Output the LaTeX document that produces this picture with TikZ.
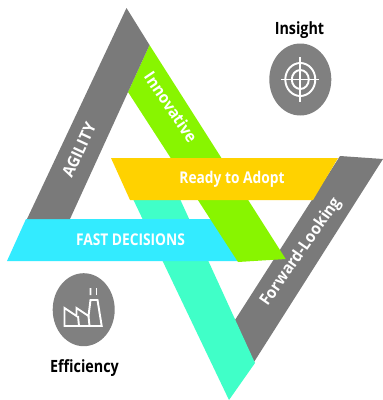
\documentclass[tikz,border=0pt]{standalone}
\usepackage{fontspec}
\setmainfont[FakeStretch=0.85]{Open Sans}
\newfontfamily\slantfont[FakeStretch=0.94]{Open Sans}
\definecolor{bargray}{HTML}{7A7A7A}
\definecolor{bargreen}{HTML}{88F500}
\definecolor{baryellow}{HTML}{FFD200}
\definecolor{barcyan}{HTML}{33EBFF}
\definecolor{barteal}{HTML}{40FFC8}
\definecolor{circgray}{HTML}{808080}
\tikzset{
    bartext/.style={inner sep=0pt, text=white, font=\fontsize{4.6}{5}\selectfont\bfseries},
    slanttext/.style={inner sep=0pt, text=white, font=\slantfont\fontsize{4.6}{5}\selectfont\bfseries},
    headtext/.style={inner sep=0pt, text=black, font=\fontsize{4.8}{5}\selectfont\bfseries},
    iconline/.style={draw=white, line width=0.55pt}
}
\begin{document}
\begin{tikzpicture}[x=0.01cm, y=-0.01cm]
    \useasboundingbox (0, 0) rectangle (383, 400);
    \fill[bargray] (340, 156) -- (383, 159) -- (254, 362) -- (235, 320) -- cycle;
    \fill[barteal] (133, 199) -- (180, 199) -- (255, 363) -- (229, 400) -- cycle;
    \fill[barcyan] (26, 219) -- (214, 219) -- (240, 261) -- (7, 261) -- cycle;
    \fill[bargreen] (149.5, 45) -- (285.7, 259) -- (238, 262) -- (128, 92) -- cycle;
    \fill[bargray] (126.5, 8) -- (149.5, 45) -- (70, 219) -- (27, 219) -- cycle;
    \fill[baryellow] (111, 158) -- (338, 158) -- (313, 200) -- (130, 200) -- cycle;
    \node[slanttext, rotate=65] (agility) at (79, 150) {AGILITY};
    \node[slanttext, rotate=-56] (innovative) at (171, 107) {Innovative};
    \node[bartext] (adopt) at (232, 179) {Ready to Adopt};
    \node[bartext] (fast) at (130.5, 240) {FAST DECISIONS};
    \node[slanttext, rotate=55] (forward) at (301, 252) {Forward-Looking};
    \node[headtext] (insight) at (299.5, 30) {Insight};
    \node[headtext] (efficiency) at (84.5, 368) {Efficiency};
    \fill[circgray] (300.3, 79.5) ellipse (31 and 36);
    \fill[circgray] (83.7, 309.7) ellipse (31 and 36.5);
    \begin{scope}[shift={(300.3, 79.5)}]
        \draw[iconline] (0, 0) ellipse (15 and 16.5);
        \draw[iconline] (0, 0) ellipse (8.5 and 9.5);
        \draw[iconline] (-19, 0) -- (19, 0);
        \draw[iconline] (0, -22.5) -- (0, 22.5);
    \end{scope}
    \draw[iconline] (64.5, 326) -- (64.5, 308) -- (76.5, 316) -- (76.5, 308) -- (88.5, 316)
        -- (90.5, 300) -- (97.5, 300) -- (101.7, 326) -- cycle;
    \draw[iconline] (78, 316) -- (79, 326);
    \draw[iconline] (88.5, 316) -- (89.5, 326);
    \foreach \x in {90.5, 96.5} {
        \draw[iconline] (\x, 295) .. controls (\x-1.5, 292.5) and (\x+1.5, 291) .. (\x, 288);
    }
\end{tikzpicture}
\end{document}
